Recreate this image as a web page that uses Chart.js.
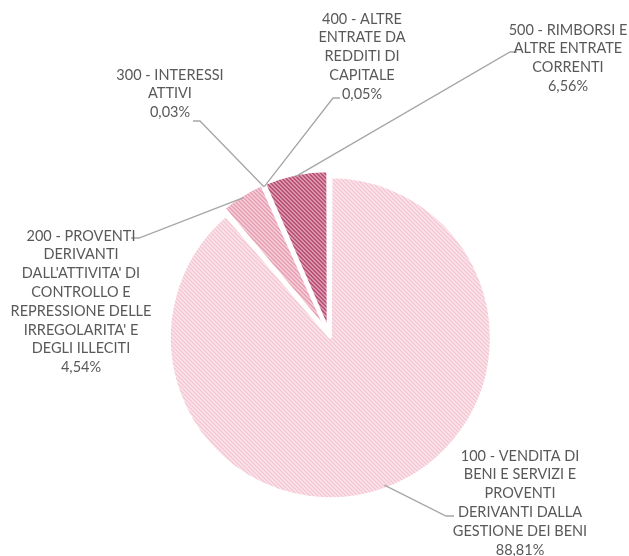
<!DOCTYPE html>
<html>
<head>
<meta charset="utf-8">
<script src="https://cdn.jsdelivr.net/npm/chart.js@4/dist/chart.umd.min.js"></script>
<style>
  html, body { margin: 0; padding: 0; background: #fff; }
  canvas { display: block; }
</style>
</head>
<body>
<canvas id="chart" width="629" height="556"></canvas>
<script>
// ================= DATA =================
const categories = [
  "100 - VENDITA DI BENI E SERVIZI E PROVENTI DERIVANTI DALLA GESTIONE DEI BENI",
  "200 - PROVENTI DERIVANTI DALL'ATTIVITA' DI CONTROLLO E REPRESSIONE DELLE IRREGOLARITA' E DEGLI ILLECITI",
  "300 - INTERESSI ATTIVI",
  "400 - ALTRE ENTRATE DA REDDITI DI CAPITALE",
  "500 - RIMBORSI E ALTRE ENTRATE CORRENTI"
];
const shares = [88.81, 4.54, 0.03, 0.05, 6.56];
const labelLines = [
  ["100 - VENDITA DI", "BENI E SERVIZI E", "PROVENTI", "DERIVANTI DALLA", "GESTIONE DEI BENI"],
  ["200 - PROVENTI", "DERIVANTI", "DALL'ATTIVITA' DI", "CONTROLLO E", "REPRESSIONE DELLE", "IRREGOLARITA' E", "DEGLI ILLECITI"],
  ["300 - INTERESSI", "ATTIVI"],
  ["400 - ALTRE", "ENTRATE DA", "REDDITI DI", "CAPITALE"],
  ["500 - RIMBORSI E", "ALTRE ENTRATE", "CORRENTI"]
];

// ================= STYLE =================
// label block placement: centre x, first line y, leader elbow and tail
const labelPos = [
  { cx: 520, y: 456, elbow: [446, 516], tail: [454, 516] },
  { cx: 81,  y: 236, elbow: [139, 238], tail: [131, 238] },
  { cx: 170, y: 75,  elbow: [200, 121], tail: [193, 121] },
  { cx: 362, y: 19,  elbow: [333, 98],  tail: [340, 98] },
  { cx: 568, y: 30,  elbow: [510, 52],  tail: [517, 52] }
];
const fills = [
  { base: "#fdeaf0", stripe: "#f4c3d0" },
  { base: "#f7d2dc", stripe: "#e69cb1" },
  { base: "#f7d2dc", stripe: "#e69cb1" },
  { base: "#e3a2b6", stripe: "#b2486e" },
  { base: "#e3a2b6", stripe: "#b2486e" }
];
const LINE_H = 18.8;
const FONT = "14.5px Lato, 'Open Sans', sans-serif";

function hatch(base, stripe) {
  const c = document.createElement("canvas");
  c.width = 4; c.height = 4;
  const g = c.getContext("2d");
  g.fillStyle = base;
  g.fillRect(0, 0, 4, 4);
  g.fillStyle = stripe;
  for (let i = 0; i < 4; i++) {
    g.fillRect(i, i, 1, 1);
    g.fillRect((i + 1) % 4, i, 1, 1);
  }
  return g.createPattern(c, "repeat");
}

const ctx = document.getElementById("chart").getContext("2d");
const patterns = fills.map(f => hatch(f.base, f.stripe));

// ================= LABELS PLUGIN =================
const outsideLabels = {
  id: "outsideLabels",
  afterDatasetsDraw(chart) {
    const c = chart.ctx;
    const arcs = chart.getDatasetMeta(0).data;
    c.save();
    arcs.forEach((arc, i) => {
      const { x, y, startAngle, endAngle, outerRadius } = arc.getProps(["x", "y", "startAngle", "endAngle", "outerRadius"], true);
      const off = (arc.options.offset || 0) / 4;
      const mid = (startAngle + endAngle) / 2;
      const ex = x + Math.cos(mid) * (outerRadius + off);
      const ey = y + Math.sin(mid) * (outerRadius + off);
      const p = labelPos[i];

      c.strokeStyle = "#a6a6a6";
      c.lineWidth = 1.3;
      c.beginPath();
      c.moveTo(ex, ey);
      c.lineTo(p.elbow[0], p.elbow[1]);
      c.lineTo(p.tail[0], p.tail[1]);
      c.stroke();

      c.fillStyle = "#595959";
      c.font = FONT;
      c.textAlign = "center";
      c.textBaseline = "middle";
      const lines = labelLines[i].concat([shares[i].toFixed(2).replace(".", ",") + "%"]);
      lines.forEach((t, k) => c.fillText(t, p.cx, p.y + k * LINE_H));
    });
    c.restore();
  }
};

new Chart(ctx, {
  type: "pie",
  data: {
    labels: categories,
    datasets: [{
      data: shares,
      backgroundColor: patterns,
      borderColor: "#ffffff",
      borderWidth: 3,
      offset: 16
    }]
  },
  options: {
    responsive: false,
    animation: false,
    events: [],
    radius: 157,
    layout: { padding: { left: 29, top: 112, right: 0, bottom: 0 } },
    plugins: {
      legend: { display: false },
      tooltip: { enabled: false }
    }
  },
  plugins: [outsideLabels]
});
</script>
</body>
</html>
